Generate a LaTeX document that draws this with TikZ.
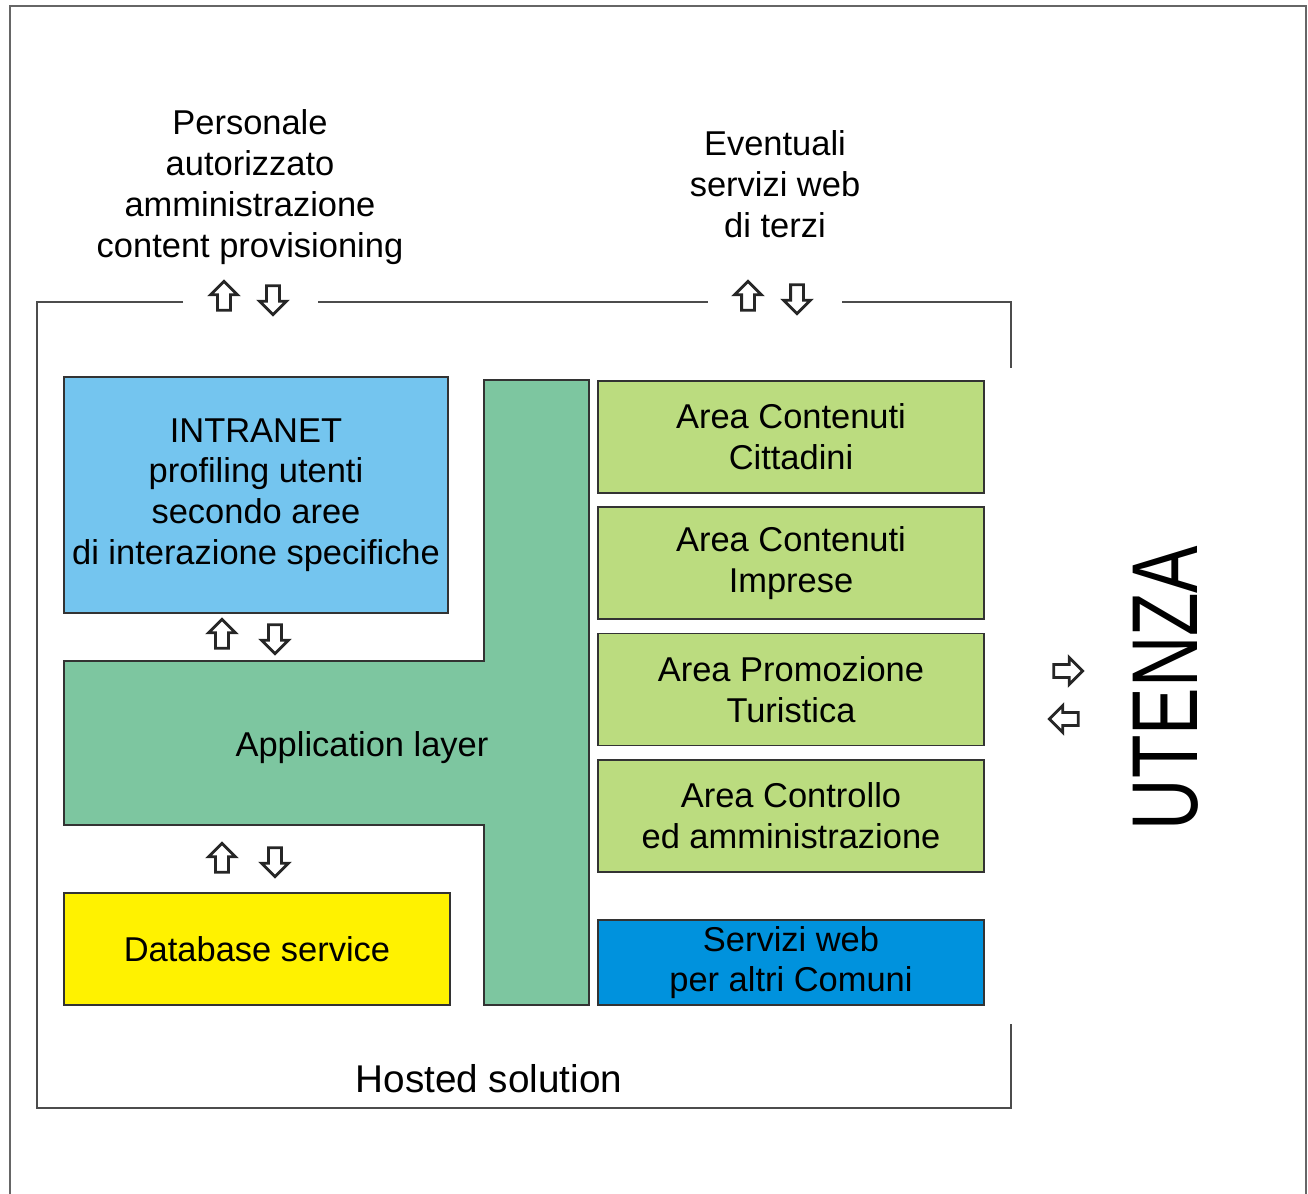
\documentclass[tikz,border=0pt]{standalone}
\usepackage{fontspec}
\setmainfont{Liberation Sans}
\usetikzlibrary{shapes.arrows}
\definecolor{intrablue}{HTML}{74C5EF}
\definecolor{appgreen}{HTML}{7DC6A0}
\definecolor{areagreen}{HTML}{BBDC7F}
\definecolor{dbyellow}{HTML}{FFF200}
\definecolor{webblue}{HTML}{0092DD}
\begin{document}
\begin{tikzpicture}[x=0.01cm,y=-0.01cm,
  testo/.style={align=center, inner sep=0pt, font=\fontsize{9.8}{11.6}\selectfont},
  box/.style={testo, draw=black!80, line width=0.5pt},
  area/.style={box, fill=areagreen, minimum width=3.86cm, minimum height=1.12cm},
  frec/.style={single arrow, draw=black!85, line width=0.8pt, fill=white, minimum height=0.29cm, minimum width=0.24cm, inner sep=0.05cm, single arrow head extend=0.07cm},
  frecsu/.style={frec, shape border rotate=90},
  frecgiu/.style={frec, shape border rotate=270},
  frecdx/.style={frec, shape border rotate=0},
  frecsx/.style={frec, shape border rotate=180}]
\useasboundingbox (0,0) rectangle (1308,1194);
% cornice esterna
\draw[black!60, line width=0.6pt] (10,1194) -- (10,6) -- (1306,6) -- (1306,1194);
% cornice hosted solution
\draw[black!70, line width=0.8pt] (183,302) -- (37,302) -- (37,1108) -- (1011,1108) -- (1011,1024);
\draw[black!70, line width=0.8pt] (318,302) -- (708,302);
\draw[black!70, line width=0.8pt] (842,302) -- (1011,302) -- (1011,368);
\node[testo, font=\fontsize{11}{13}\selectfont] (hosted) at (489,1079) {Hosted solution};

% application layer
\draw[draw=black!80, line width=0.5pt, fill=appgreen] (484,380) -- (589,380) -- (589,1005) -- (484,1005) -- (484,825) -- (64,825) -- (64,661) -- (484,661) -- cycle;
\node[testo] (applayer) at (362,748) {Application layer};

\node[box, fill=intrablue, minimum width=3.84cm, minimum height=2.36cm] (intranet) at (256,495)
  {INTRANET\\profiling utenti\\secondo aree\\di interazione specifiche};
\node[box, fill=dbyellow, minimum width=3.86cm, minimum height=1.12cm] (database) at (257,949) {Database service};

\node[area] (cittadini) at (791,437) {Area Contenuti\\Cittadini};
\node[area] (imprese) at (791,563) {Area Contenuti\\Imprese};
\node[area] (turistica) at (791,689.5) {Area Promozione\\Turistica};
\node[area] (controllo) at (791,816) {Area Controllo\\ed amministrazione};
\node[box, fill=webblue, minimum width=3.86cm, minimum height=0.85cm] (comuni) at (791,962.5) {Servizi web\\per altri Comuni};

% etichette esterne
\node[testo] (personale) at (250,187) {Personale\\autorizzato\\amministrazione\\content provisioning};
\node[testo] (terzi) at (775,184) {Eventuali\\servizi web\\di terzi};
\node[rotate=90, inner sep=0pt, font=\fontsize{26.6}{30}\selectfont] (utenza) at (1166,688) {\scalebox{0.76}[1]{UTENZA}};

% frecce
\node[frecsu] (su1) at (224,299) {};
\node[frecgiu] (giu1) at (273,297) {};
\node[frecsu] (su2) at (748,299) {};
\node[frecgiu] (giu2) at (797,296) {};
\node[frecsu] (su3) at (222,637) {};
\node[frecgiu] (giu3) at (275,636) {};
\node[frecsu] (su4) at (222,861) {};
\node[frecgiu] (giu4) at (275,859) {};
\node[frecdx] (dx) at (1065,671) {};
\node[frecsx] (sx) at (1067,719) {};
\end{tikzpicture}
\end{document}
